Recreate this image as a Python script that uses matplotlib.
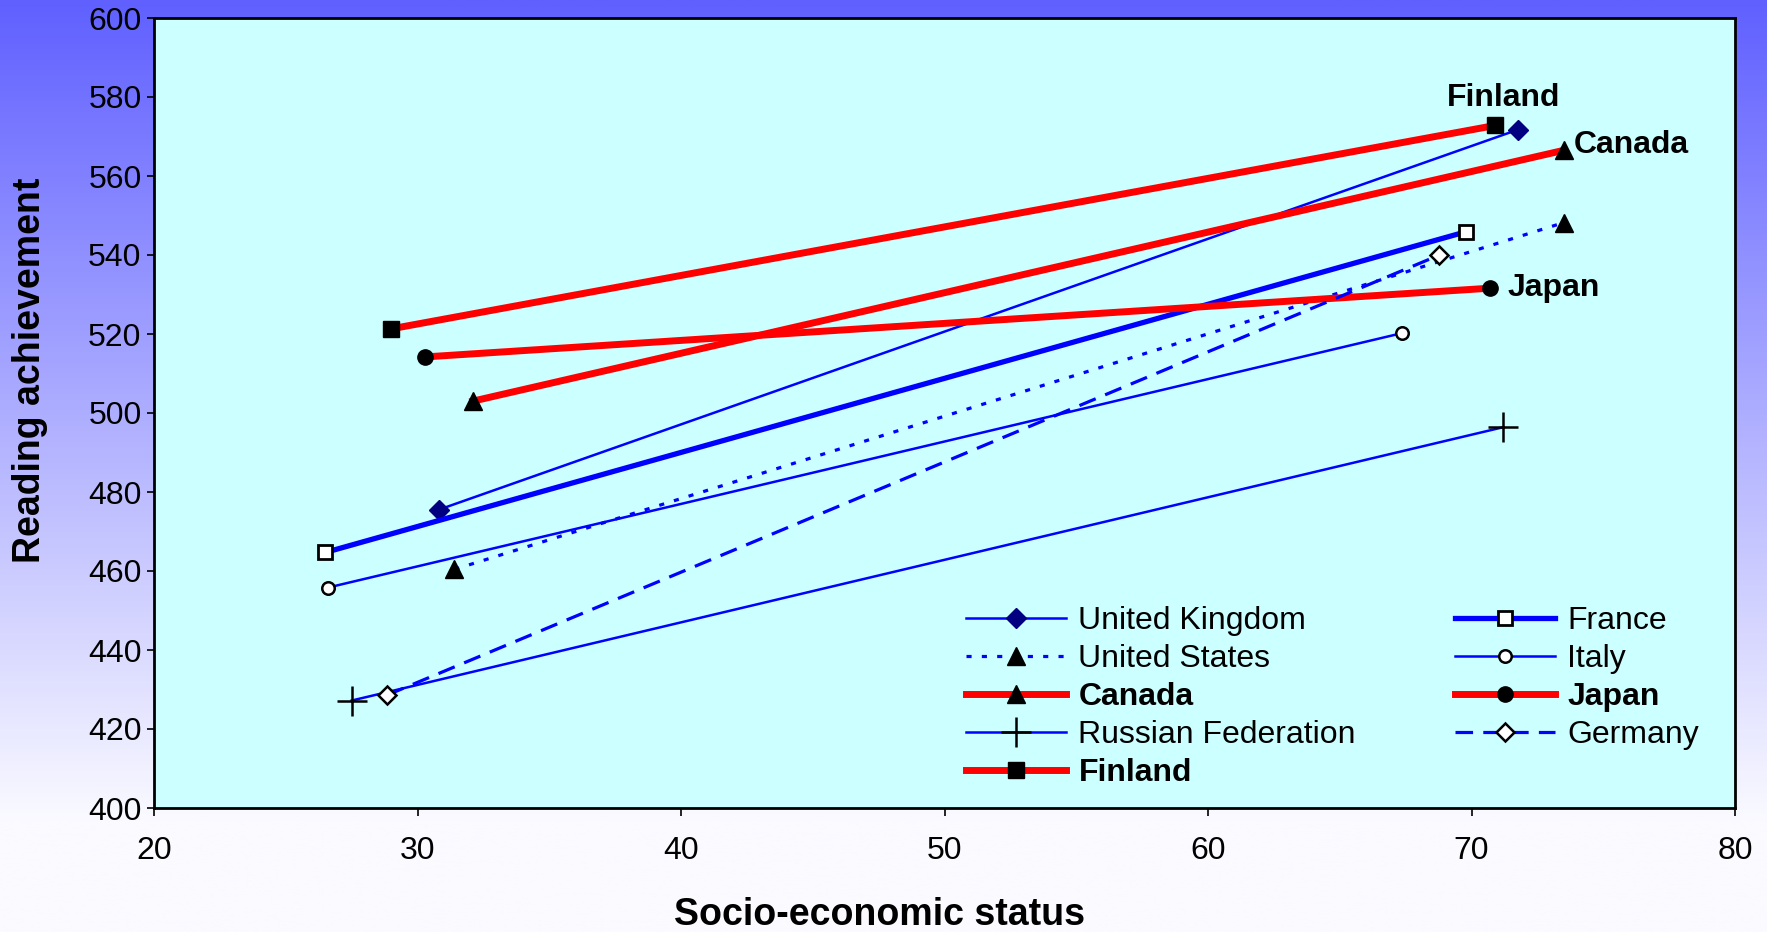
import numpy as np
import matplotlib
matplotlib.use("Agg")
import matplotlib.pyplot as plt

plt.rcParams['font.family'] = ['Liberation Sans', 'DejaVu Sans']

# Socio-economic status (bottom / top) and reading achievement for each country
countries = ["United Kingdom", "France", "United States", "Italy", "Canada",
             "Japan", "Russian Federation", "Germany", "Finland"]
ses_low = [30.8, 26.5, 31.4, 26.6, 32.1, 30.3, 27.5, 28.85, 29.0]
ses_high = [71.75, 69.8, 73.5, 67.35, 73.5, 70.7, 71.2, 68.75, 70.9]
read_low = [475.5, 464.7, 460.4, 455.8, 503.0, 514.2, 427.2, 428.6, 521.3]
read_high = [571.7, 545.9, 548.2, 520.2, 566.5, 531.6, 496.4, 539.9, 572.8]

x_ticks = [20, 30, 40, 50, 60, 70, 80]
y_ticks = [400, 420, 440, 460, 480, 500, 520, 540, 560, 580, 600]
highlighted = ["Canada", "Japan", "Finland"]

styles = {
    "United Kingdom": dict(color="#0000FF", lw=1.8, ls="-", marker="D", ms=10,
                           mfc="#000080", mec="#000080"),
    "France": dict(color="#0000FF", lw=3.8, ls="-", marker="s", ms=10,
                   mfc="white", mec="black", mew=2),
    "United States": dict(color="#0000FF", lw=2.3, ls=(0, (1.6, 3.2)), marker="^", ms=13,
                          mfc="black", mec="black"),
    "Italy": dict(color="#0000FF", lw=1.8, ls="-", marker="o", ms=9,
                  mfc="white", mec="black", mew=1.8),
    "Canada": dict(color="#FF0000", lw=5, ls="-", marker="^", ms=13,
                   mfc="black", mec="black"),
    "Japan": dict(color="#FF0000", lw=5, ls="-", marker="o", ms=11,
                  mfc="black", mec="black"),
    "Russian Federation": dict(color="#0000FF", lw=1.8, ls="-", marker="+", ms=22,
                               mfc="black", mec="black", mew=1.8),
    "Germany": dict(color="#0000FF", lw=2.3, ls=(0, (5.5, 3.2)), marker="D", ms=9,
                    mfc="white", mec="black", mew=1.8),
    "Finland": dict(color="#FF0000", lw=5, ls="-", marker="s", ms=12,
                    mfc="black", mec="black"),
}

W, H = 1767, 932
fig = plt.figure(figsize=(W / 100, H / 100), dpi=100)

# vertical blue-to-white gradient behind everything
bg = fig.add_axes([0, 0, 1, 1], zorder=-10)
t = np.linspace(0, 1, 400)[:, None]
top = np.array([96, 96, 255]) / 255
bot = np.array([250, 250, 255]) / 255
frac = np.clip(t / 0.88, 0, 1)
grad = top[None, None, :] * (1 - frac[..., None]) + bot[None, None, :] * frac[..., None]
grad = np.repeat(grad, 2, axis=1)
bg.imshow(grad, aspect="auto", extent=[0, 1, 0, 1], origin="upper")
bg.axis("off")

ax = fig.add_axes([154 / W, 1 - 808 / H, (1735 - 154) / W, (808 - 18) / H])
ax.set_facecolor("#CCFFFF")

handles = {}
for i, name in enumerate(countries):
    st = dict(styles[name])
    line, = ax.plot([ses_low[i], ses_high[i]], [read_low[i], read_high[i]],
                    color=st.pop("color"), linewidth=st.pop("lw"),
                    linestyle=st.pop("ls"), label=name, **st)
    handles[name] = line

ax.set_xlim(20, 80)
ax.set_ylim(400, 600)
ax.set_xticks(x_ticks)
ax.set_yticks(y_ticks)
ax.tick_params(axis="x", labelsize=23, length=6, width=1.2, pad=14, direction="out")
ax.tick_params(axis="y", labelsize=23, length=5, width=1.2, pad=4, direction="out")
for s in ax.spines.values():
    s.set_linewidth(2)
    s.set_color("black")

fig.text(879 / W, 1 - 915 / H, "Socio-economic status", fontsize=27,
         fontweight="bold", ha="center", va="center")
fig.text(30 / W, 1 - 370 / H, "Reading achievement", rotation=90, fontsize=27,
         fontweight="bold", ha="center", va="center")

# country name labels near the top-end points
idx = {n: i for i, n in enumerate(countries)}
i = idx["Finland"]
ax.annotate("Finland", (ses_high[i], read_high[i]), xytext=(6, 20),
            textcoords="offset points", ha="center", va="center",
            fontsize=23, fontweight="bold")
i = idx["Canada"]
ax.annotate("Canada", (ses_high[i], read_high[i]), xytext=(7, 4),
            textcoords="offset points", ha="left", va="center",
            fontsize=23, fontweight="bold")
i = idx["Japan"]
ax.annotate("Japan", (ses_high[i], read_high[i]), xytext=(13, 0),
            textcoords="offset points", ha="left", va="center",
            fontsize=23, fontweight="bold")

order = ["United Kingdom", "United States", "Canada", "Russian Federation", "Finland",
         "France", "Italy", "Japan", "Germany"]
leg = ax.legend([handles[n] for n in order], order, ncol=2, frameon=False,
                loc="upper left", bbox_to_anchor=(966 / W, 1 - 606 / H),
                bbox_transform=fig.transFigure, fontsize=23, handlelength=3.13,
                handletextpad=0.39, labelspacing=0.25, columnspacing=3.1,
                borderpad=0, borderaxespad=0)
for txt in leg.get_texts():
    if txt.get_text() in highlighted:
        txt.set_fontweight("bold")

fig.savefig("out.png", dpi=100)
